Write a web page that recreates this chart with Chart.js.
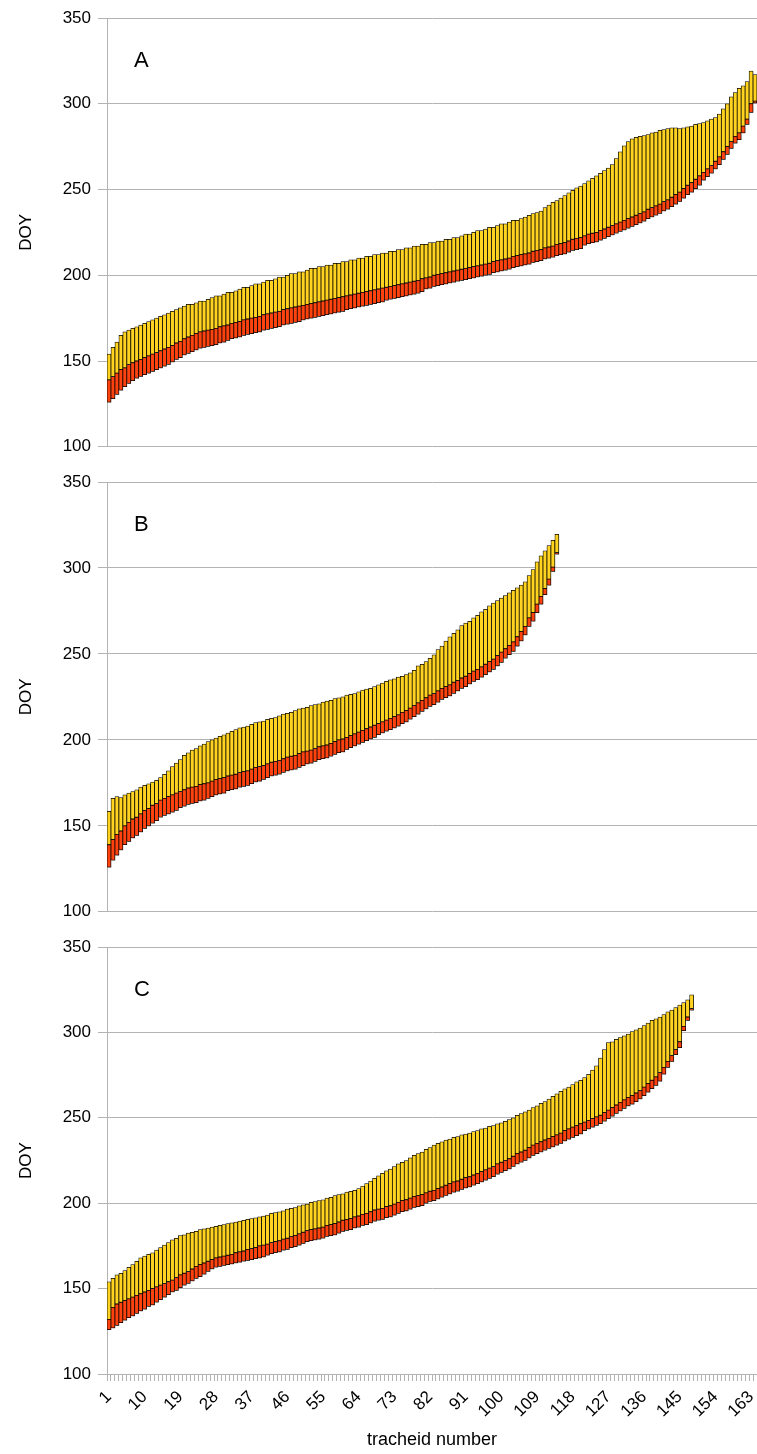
<!DOCTYPE html>
<html>
<head>
<meta charset="utf-8">
<script src="https://cdn.jsdelivr.net/npm/chart.js@4.4.1/dist/chart.umd.min.js"></script>
<style>
  html, body { margin: 0; padding: 0; background: #fff; }
  body { width: 757px; height: 1454px; position: relative; overflow: hidden; }
  canvas { position: absolute; left: 0; }
</style>
</head>
<body>
<canvas id="chartA" width="757" height="464" style="top:0px"></canvas>
<canvas id="chartB" width="757" height="465" style="top:464px"></canvas>
<canvas id="chartC" width="757" height="525" style="top:929px"></canvas>
<script>
// tracheid numbers on the shared x axis
const tracheids = Array.from({ length: 164 }, (_, i) => String(i + 1));

// panel A: start of enlargement, start of wall thickening, end of maturation (DOY)
const aStart = [
  126,128,130.5,133,135,137,138.5,140,141,142,
  143,144,145,146,147,148,149.5,151,152,153.5,
  154.5,155.5,156.5,157.5,158,158.5,159,159.5,160.5,161,
  162,163,163.5,164,165,165.5,166,166.5,167,168,
  168.5,169,169.5,170,171,171.5,172,172.5,173,174,
  174.5,175,175.5,176,176.5,177,177.5,178,178.5,179,
  180,180.5,181,181.5,182,182.5,183,183.5,184,184.5,
  185.5,186,186.5,187,187.5,188,188.5,189,189.5,190.5,
  192,192.5,193.5,194,194.5,195,195.5,196,196.5,197,
  197.5,198,198.5,199,199.5,200,200.5,201.5,202,202.5,
  203,203.5,204.5,205,205.5,206,206.5,207.5,208,208.5,
  209.5,210,210.5,211.5,212,212.5,213.5,214.5,215,215.5,
  217.5,218.5,219,219.5,220.5,221.5,222.5,223.5,224.5,225.5,
  226.5,227.5,228.5,229.5,230.5,231.5,233,234,235,236,
  237.5,238.5,240,241.5,243,245,247,248.5,250.5,252.5,
  255.5,257.5,259.5,262,264.5,267.5,270.5,274,277,279,
  283,288,295,300.5
];
const aMid = [
  139,141,143,145,146,148,149,150,151,152,
  153,154,155,156,157,158,159,160.5,161.5,163,
  164,165,166,167,167.5,168,168.5,169,170,170.5,
  171,172,172.5,173,174,174.5,175,175.5,176,177,
  177.5,178,178.5,179,180,180.5,181,181.5,182,182.5,
  183,183.5,184,184.5,185,185.5,186,186.5,187,187.5,
  188,188.5,189,189.5,190,190.5,191,191.5,192,192.5,
  193,193.5,194,194.5,195,195.5,196,196.5,197,198,
  198.5,199,200,200.5,201,201.5,202,202.5,203,203.5,
  204,204.5,205,205.5,206,206.5,207,208,208.5,209,
  209.5,210,211,211.5,212,212.5,213,214,214.5,215,
  216,216.5,217,218,218.5,219,220,221,221.5,222,
  223,224,224.5,225,226,227,228,229,230,231,
  232,233,234,235,236,237,238.5,239.5,240.5,241.5,
  243,244,245.5,247,248.5,250.5,252.5,254,256,258,
  260,262,264,266.5,269,272,275,278,281,283,
  287,291,300,301.5
];
const aEnd = [
  154,158,161,165,167,168,169,170,171,172,
  173,174,175,176,177,178,179,180,181,182,
  183,183,184,185,185,186,187,188,188,189,
  190,190,191,192,193,193,194,195,195,196,
  197,197,198,199,199,200,201,201,202,202,
  203,204,204,205,205,206,206,207,207,208,
  208,209,209,210,210,211,211,212,212,213,
  213,214,214,215,215,216,216,217,217,218,
  218,219,219,220,220,221,221,222,222,223,
  224,224,225,226,226,227,228,228,229,230,
  230,231,232,232,233,234,235,236,236.5,237.5,
  239.5,241,242.5,243.5,245,246.5,248,249.5,251,252,
  253.5,255,256.5,258,259.5,261,262.5,264.5,268,272,
  275.5,278,279.5,280.5,281,281.5,282,283,283.5,284.5,
  285,285.5,286,286,285.5,286,286.5,287,288,288.5,
  289,290,291,292,294,297,300,304,306.5,309,
  310.5,313,319,317
];

// panel B
const bStart = [
  126,130,133,136,139,141,143,144.5,146.5,148.5,
  150,151.5,153,155,156,157,158,159,160.5,161.5,
  162.5,163,163.5,164.5,165,166,167,168,168.5,169,
  170.5,171,171.5,172.5,173,173.5,174.5,175.5,176,177,
  178,179,179.5,180,181,182,182.5,183,184,185,
  186,186.5,187.5,188.5,189,189.5,190.5,191.5,192.5,193,
  194.5,195.5,196.5,197.5,198.5,199.5,200.5,201.5,203,204,
  205,206,207,208,209.5,210.5,212,213.5,215,216.5,
  218,219.5,220.5,222,223.5,224.5,225.5,227,228.5,230,
  231,232.5,234,235,236.5,238,239.5,241,243,245,
  247.5,249.5,251.5,254.5,257.5,261,266,269,274,279,
  284.5,290,298,308
];
const bMid = [
  139,142,145,147,150,152,154,155,157,159,
  160,162,163,165,166,167,168,169,170,171,
  172,172.5,173,174,174.5,175,176,177,177.5,178,
  179,179.5,180,181,181.5,182,183,184,184.5,185,
  186,187,187.5,188,189,190,190.5,191,192,193,
  193.5,194,195,196,196.5,197,198,199,200,200.5,
  201.5,202.5,203.5,204.5,205.5,206.5,207.5,208.5,209.5,210.5,
  211.5,212.5,213.5,214.5,216,217,218.5,220,221.5,223,
  224.5,226,227,228.5,230,231,232,233.5,234.5,236,
  237,238.5,240,241,242.5,244,245.5,247,249,251,
  253,255,257,260,263,266,271,274,279,283.5,
  288,293.5,300.5,309
];
const bEnd = [
  158.5,166,167,166.5,168,169,170,171,172.5,173.5,
  174.5,175.5,176.5,178,180,182,184.5,186.5,188.5,191,
  192.5,194,195,196.5,197.5,199,200,201,202,203,
  204,205,206,207,207.5,208,209,210,210.5,211,
  212,212.5,213,214,215,215.5,216,217,218,218.5,
  219,220,220.5,221,222,222.5,223,224,224.5,225,
  226,226.5,227,228,229,229.5,230,231,232,233,
  234,235,235.5,236.5,237,238,239,240.5,243,244,
  245.5,247.5,249.5,252.5,254.5,257.5,260,262,264,266.5,
  268,269,271,272.5,274.5,276,278,279.5,281,282.5,
  284,285.5,287,288.5,290,292,295.5,299,303.5,307,
  310,313,316,319.5
];

// panel C
const cStart = [
  126,127,128.5,130,131.5,133,134,135.5,137,138,
  139.5,140.5,142,143.5,145,146.5,148,149,150.5,152,
  153,154.5,156,157,158.5,160,161.5,162.5,163,163.5,
  164,164.5,165,165.5,166,166.5,167,167.5,168,168.5,
  169.5,170.5,171,171.5,172.5,173,174,174.5,175.5,176.5,
  177.5,178,178.5,179,179.5,180.5,181,181.5,182.5,183.5,
  184,184.5,185.5,186,187,187.5,188.5,189.5,190,190.5,
  191.5,192,193,194,195,195.5,196.5,197.5,198,198.5,
  200,201,201.5,202.5,203.5,204.5,205.5,206.5,207,208,
  209,209.5,210.5,211.5,212.5,213.5,214.5,215.5,217,218,
  219,220,221.5,223,224,225,226.5,228,229,230,
  231,232,233,234,235,236.5,237.5,238.5,239.5,240.5,
  242.5,243.5,244.5,245.5,246.5,248,249.5,251,252.5,254,
  255.5,257,258,259.5,261,263,265,267,269,271.5,
  275.5,279.5,283,287,291,301,307,313
];
const cMid = [
  132,139,141,142,143,144,145,146,147,148,
  149,150,151,152,153,154,155,156.5,158,159,
  160,161.5,163,164,165,166,167,168,168.5,169,
  169.5,170,171,171.5,172,173,173.5,174,175,175.5,
  176,177,177.5,178,179,179.5,180.5,181,182,183,
  184,184.5,185,185.5,186,187,187.5,188,189,190,
  190.5,191,192,192.5,193.5,194,195,196,196.5,197,
  198,198.5,199.5,200.5,201.5,202,203,204,204.5,205,
  206,207,207.5,208.5,209.5,210.5,211.5,212.5,213,214,
  215,215.5,216.5,217.5,218.5,219.5,220.5,221.5,223,224,
  225,226,227.5,229,230,231,232.5,234,235,236,
  237,238,239,240,241,242.5,243.5,244.5,245.5,246.5,
  247.5,248.5,249.5,250.5,251.5,253,254.5,256,257.5,259,
  260.5,262,263,264.5,266,268,270,272,274,276.5,
  279.5,283,286.5,290,294.5,303.5,309,314
];
const cEnd = [
  154,156,158,159,160.5,162.5,164,166,168,169,
  170,171,172.5,174,175.5,177,178.5,179.5,181,181.5,
  182.5,183,183.5,184.5,185,185.5,186,186.5,187,187.5,
  188,188.5,189,189.5,190,190.5,191,191.5,192,192.5,
  193,194,194.5,195,195.5,196.5,197,197.5,198.5,199,
  199.5,200.5,201,201.5,202,203,203.5,204.5,205,205.5,
  206.5,207,207.5,208.5,210,211.5,213,214.5,216,217.5,
  219,220,221.5,223,224,225,226.5,228,229,230,
  231.5,232.5,234,235,236,237,237.5,238.5,239,240,
  240.5,241,242,242.5,243.5,244,245,245.5,246.5,247,
  248,249,250,251.5,252.5,253.5,254.5,256,257,258.5,
  259.5,261,262.5,264,265.5,267,268,269.5,271,272,
  273.5,275.5,278,280.5,285,290,294,294.5,296,297,
  298,299,300.5,301.5,302.5,304,305.5,307,308,309,
  310.5,312,313,314.5,316,317.5,319,322
];

const RED = '#ff420e';
const YELLOW = '#ffd320';
const OUTLINE = '#000000';
const GRID = '#b3b3b3';
const FONT = '"Liberation Sans", Arial, sans-serif';

// grey drop shadow under the bars, like the original
const barShadow = {
  id: 'barShadow',
  beforeDatasetsDraw(chart) {
    const ctx = chart.ctx;
    ctx.save();
    ctx.shadowColor = 'rgba(0,0,0,0.35)';
    ctx.shadowOffsetX = 1;
    ctx.shadowOffsetY = 1;
    ctx.shadowBlur = 0;
  },
  afterDatasetsDraw(chart) {
    chart.ctx.restore();
  }
};

// the A / B / C letter in the upper left of each panel
const panelLetter = {
  id: 'panelLetter',
  afterDraw(chart, args, opts) {
    const { ctx, chartArea } = chart;
    ctx.save();
    ctx.font = '22px ' + FONT;
    ctx.fillStyle = '#000';
    ctx.textBaseline = 'alphabetic';
    ctx.fillText(opts.text, chartArea.left + 27, chartArea.top + 49);
    ctx.restore();
  }
};

function makeChart(id, letter, start, mid, end, showX, padBottom) {
  const redBars = mid.map((m, i) => [start[i], m]);
  const yellowBars = end.map((e, i) => [mid[i], e]);
  const barStyle = {
    borderColor: OUTLINE,
    borderWidth: 0.75,
    borderSkipped: false,
    grouped: false,
    barPercentage: 1,
    categoryPercentage: 1
  };

  return new Chart(document.getElementById(id), {
    type: 'bar',
    data: {
      labels: tracheids,
      datasets: [
        Object.assign({ label: 'enlargement', data: redBars, backgroundColor: RED }, barStyle),
        Object.assign({ label: 'wall thickening', data: yellowBars, backgroundColor: YELLOW }, barStyle)
      ]
    },
    options: {
      responsive: false,
      animation: false,
      layout: { padding: { top: 18, bottom: padBottom, left: 0, right: 0 } },
      plugins: {
        legend: { display: false },
        tooltip: { enabled: false },
        panelLetter: { text: letter }
      },
      scales: {
        x: {
          display: showX,
          offset: true,
          grid: { drawOnChartArea: false, drawTicks: true, tickLength: 7, color: GRID },
          border: { display: true, color: GRID },
          ticks: {
            autoSkip: false,
            minRotation: 45,
            maxRotation: 45,
            padding: 6,
            color: '#000',
            font: { family: FONT, size: 17 },
            callback: (v, i) => (i % 9 === 0 ? tracheids[i] : '')
          },
          title: {
            display: true,
            text: 'tracheid number',
            color: '#000',
            font: { family: FONT, size: 18 },
            padding: { top: 0, bottom: 3 }
          },
          afterFit: s => {
            if (showX) { s.height = 80; s.paddingRight = 0; }
          }
        },
        y: {
          min: 100,
          max: 350,
          ticks: { stepSize: 50, padding: 7, color: '#000', font: { family: FONT, size: 17 } },
          grid: { color: GRID, tickLength: 9 },
          border: { display: true, color: GRID },
          title: {
            display: true,
            text: 'DOY',
            color: '#000',
            font: { family: FONT, size: 17 },
            padding: { top: 16, bottom: 0 }
          },
          afterFit: s => { s.width = 107; }
        }
      }
    },
    plugins: [barShadow, panelLetter]
  });
}

makeChart('chartA', 'A', aStart, aMid, aEnd, false, 13);
makeChart('chartB', 'B', bStart, bMid, bEnd, false, 14);
makeChart('chartC', 'C', cStart, cMid, cEnd, true, 0);
</script>
</body>
</html>
